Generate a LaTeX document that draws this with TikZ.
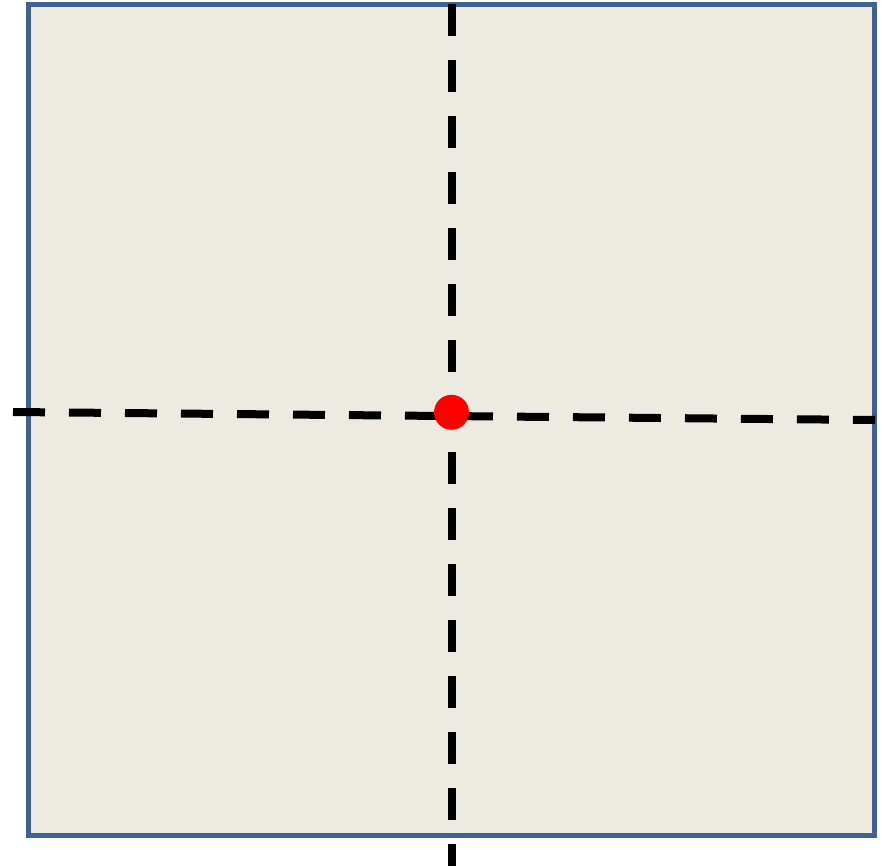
\documentclass[tikz,border=0pt]{standalone}
\usepackage{tikz}
\usetikzlibrary{calc}

\definecolor{panelfill}{RGB}{236,234,225}
\definecolor{paneledge}{RGB}{62,97,143}

\tikzset{
  asse/.style={line width=8pt, dash pattern=on 32pt off 24pt},
  bordo/.style={line width=5pt, draw=paneledge, fill=panelfill}
}

\begin{document}
\begin{tikzpicture}[x=1pt, y=-1pt]
  \useasboundingbox (0,0) rectangle (887,866);

  % pannello
  \coordinate (SW) at (28,835.5);
  \coordinate (NE) at (874.5,4.5);
  \draw[bordo] (SW) rectangle (NE);

  % assi tratteggiati
  \coordinate (Vtop) at (451.5,4);
  \coordinate (Vbot) at (451.5,870);
  \coordinate (Hl) at (13,412);
  \coordinate (Hr) at (875,420);
  \draw[asse] (Vtop) -- (Vbot);
  \draw[asse] (Hl) -- (Hr);

  % punto centrale
  \node[circle, fill=red, inner sep=0pt, minimum size=35pt] (P) at (451.5,412.3) {};
\end{tikzpicture}
\end{document}
